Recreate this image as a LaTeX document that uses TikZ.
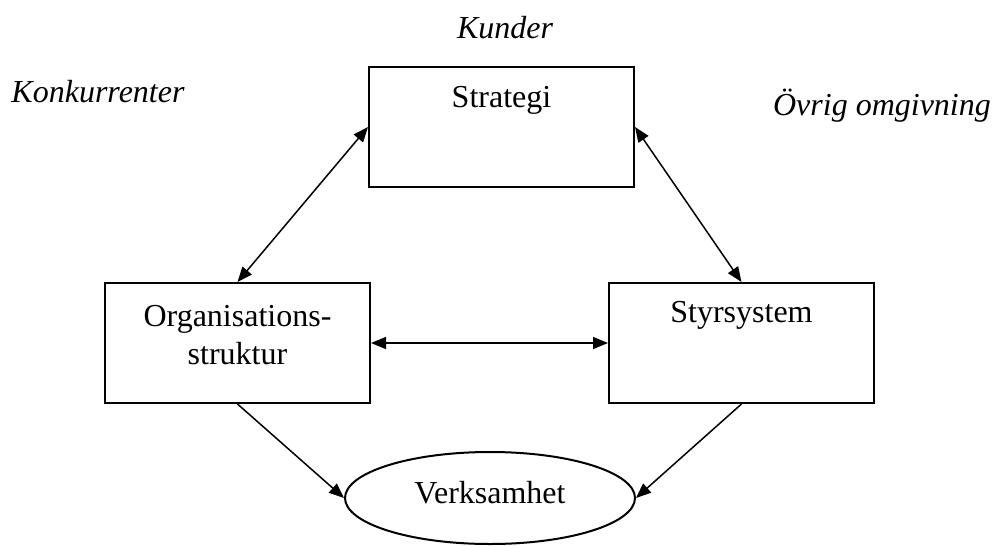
\documentclass[tikz,border=0pt]{standalone}
\usepackage{fontspec}
\setmainfont{Liberation Serif}
\usetikzlibrary{arrows.meta,shapes.geometric}

\tikzset{
  box/.style={draw, line width=2pt, rectangle, minimum width=265pt, minimum height=120pt, inner sep=0pt},
  oval/.style={draw, line width=2pt, ellipse, minimum width=290pt, minimum height=92pt, inner sep=0pt},
  txt/.style={font=\fontsize{32}{38}\selectfont, align=center, inner sep=0pt},
  env/.style={txt, font=\fontsize{32}{38}\selectfont\itshape},
  link/.style={line width=1.5pt, {Triangle[length=15pt,width=12pt]}-{Triangle[length=15pt,width=12pt]}},
  flow/.style={line width=1.5pt, -{Triangle[length=15pt,width=12pt]}}
}

\begin{document}
\begin{tikzpicture}[x=1pt,y=-1pt]
  \useasboundingbox (0,0) rectangle (993,546);

  % the three boxes and the ellipse
  \node[box] (strat) at (501.5,127) {};
  \node[box] (org)   at (237.5,343) {};
  \node[box] (styr)  at (741.5,343) {};
  \node[oval] (verk) at (490,498) {};

  % box texts
  \node[txt] (stratT) at (501.5,100) {Strategi};
  \node[txt] (orgT)   at (237.5,335) {Organisations-\\struktur};
  \node[txt] (styrT)  at (741.5,315) {Styrsystem};
  \node[txt] (verkT)  at (490,493)   {Verksamhet};

  % surroundings
  \node[env] (kund) at (505,28)  {Kunder};
  \node[env] (konk) at (98,92)   {Konkurrenter};
  \node[env] (ovr)  at (882,106) {Övrig omgivning};

  % connectors
  \draw[link] (strat.west) -- (org.north);
  \draw[link] (strat.east) -- (styr.north);
  \draw[link] (org.east) -- (styr.west);
  \draw[flow] (org.south) -- (verk.west);
  \draw[flow] (styr.south) -- (verk.east);
\end{tikzpicture}
\end{document}
